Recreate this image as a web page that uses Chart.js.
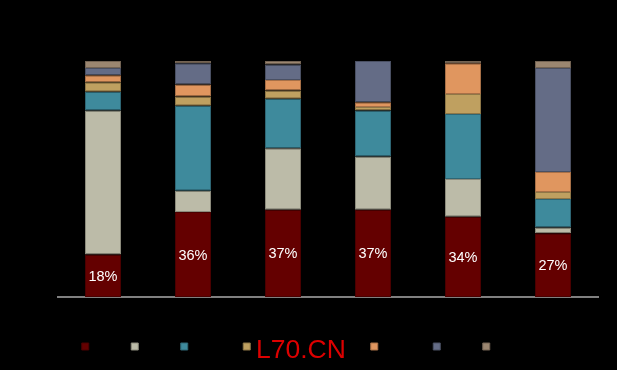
<!DOCTYPE html>
<html>
<head>
<meta charset="utf-8">
<script src="https://cdn.jsdelivr.net/npm/chart.js@4/dist/chart.umd.min.js"></script>
<style>
  html, body { margin: 0; padding: 0; background: #000; }
  #wrap { position: relative; width: 617px; height: 370px; }
  #mark { position: absolute; left: 256px; top: 334px; font: 26.5px "Liberation Sans", Arial, sans-serif; color: #dd0000; }
</style>
</head>
<body>
<div id="wrap">
  <canvas id="chart" width="617" height="370"></canvas>
  <div id="mark">L70.CN</div>
</div>
<script>
const categories = ["A", "B", "C", "D", "E", "F"];
const seriesNames = ["甲组", "乙组", "丙组合", "丁组合及其他类别", "戊组合", "己组", "庚组其他类别"];
const s1 = [18, 36, 37, 37, 34, 27];
const s2 = [61, 9, 26, 22.5, 16, 2.5];
const s3 = [8, 36, 21, 19.5, 27.5, 12];
const s4 = [4, 4, 3.5, 1.5, 8.5, 3];
const s5 = [3, 5, 4.5, 2, 13, 8.5];
const s6 = [3, 9, 6.5, 17.5, 0, 44];
const s7 = [3, 1, 1.5, 0, 1, 3];

const fills = ["#640000", "#bcbba8", "#3e8a9c", "#bfa060", "#e0965f", "#646c86", "#9b8670"];
const edges = ["#4a0000", "#8c8b7c", "#2e6674", "#8e7747", "#a87047", "#4a5063", "#736353"];
const values = [s1, s2, s3, s4, s5, s6, s7];

// percent labels on the bottom series
const pctLabels = {
    id: 'pctLabels',
    afterDatasetsDraw(chart) {
        const ctx = chart.ctx;
        const meta = chart.getDatasetMeta(0);
        ctx.save();
        ctx.fillStyle = '#fff';
        ctx.font = '14.5px "Liberation Sans", Arial, sans-serif';
        ctx.textAlign = 'center';
        ctx.textBaseline = 'middle';
        meta.data.forEach((bar, i) => {
            const y = (bar.y + bar.base) / 2 + 1;
            ctx.fillText(s1[i] + '%', bar.x, y);
        });
        ctx.restore();
    }
};

new Chart(document.getElementById("chart"), {
    type: 'bar',
    data: {
        labels: categories,
        datasets: values.map((v, i) => ({
            label: seriesNames[i],
            data: v,
            backgroundColor: fills[i],
            borderColor: edges[i],
            borderWidth: 1,
            borderSkipped: false,
            barPercentage: 0.4,
            categoryPercentage: 1
        }))
    },
    options: {
        responsive: false,
        animation: false,
        layout: { padding: { left: 58, right: 19, top: 61, bottom: 7 } },
        scales: {
            x: {
                stacked: true,
                ticks: { display: false },
                grid: { display: true, drawOnChartArea: false, drawTicks: true, tickLength: 33, tickColor: 'transparent' },
                border: { display: true, color: '#808080', width: 2 }
            },
            y: { stacked: true, min: 0, max: 100, display: false }
        },
        plugins: {
            legend: {
                position: 'bottom',
                labels: {
                    boxWidth: 7,
                    boxHeight: 7,
                    padding: 10,
                    color: '#000',
                    font: { size: 13, family: '"Noto Sans CJK SC", sans-serif' }
                }
            },
            tooltip: { enabled: false }
        }
    },
    plugins: [pctLabels]
});
</script>
</body>
</html>
